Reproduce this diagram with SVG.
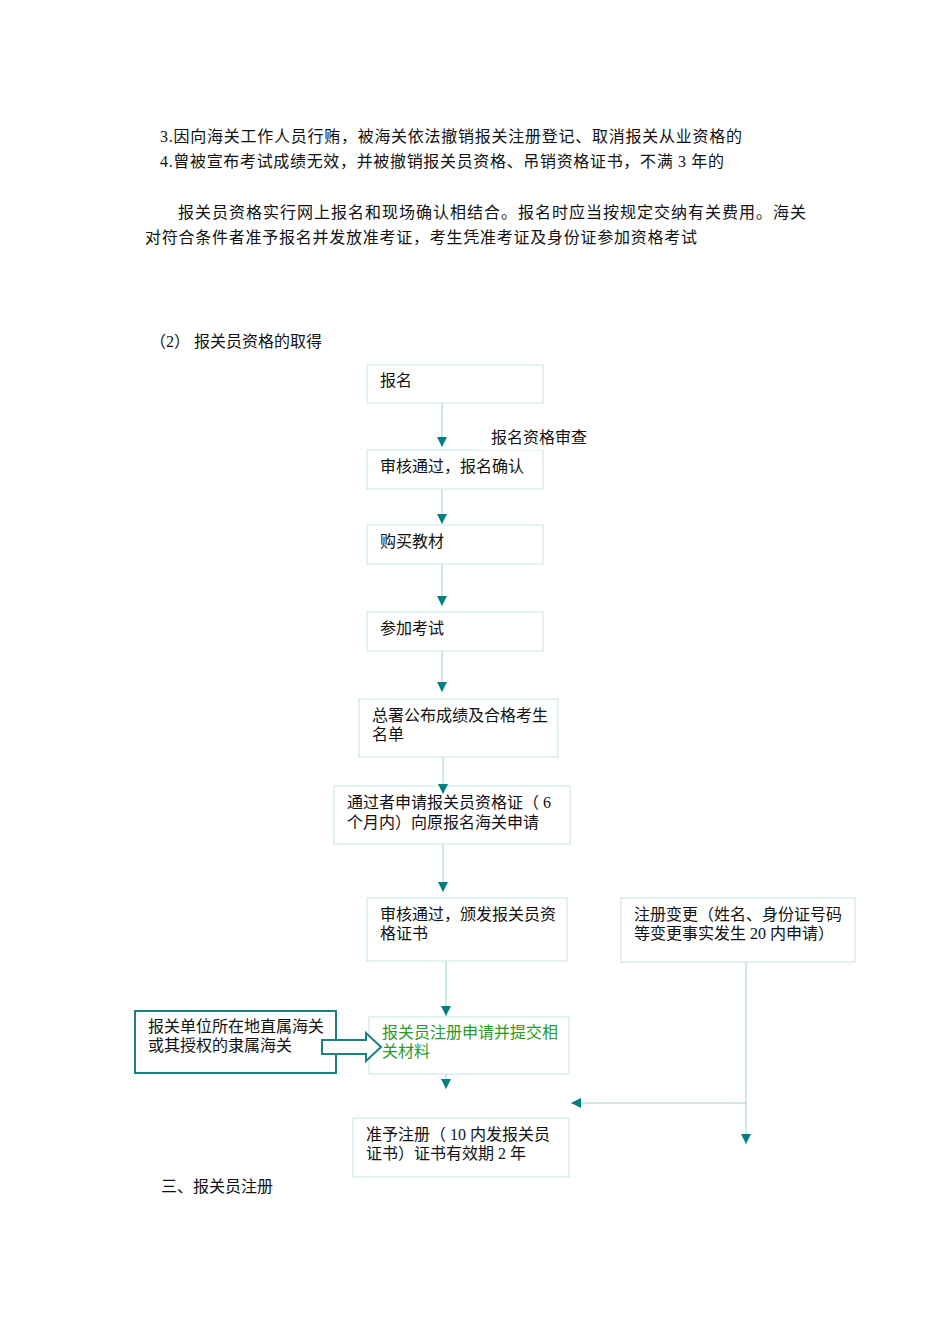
<svg xmlns="http://www.w3.org/2000/svg" width="950" height="1344" viewBox="0 0 950 1344">
<style>
text{font-family:"Liberation Serif","Noto Sans CJK SC",serif;font-size:16px;fill:#111}
.b{fill:#fff;stroke:#c6e3e3;stroke-width:1}
.l{stroke:#9fd0d0;stroke-width:1;fill:none}
.g{fill:#2a9a2a}
</style>
<defs><marker id="a" viewBox="0 0 10 10" refX="10" refY="5" markerWidth="10" markerHeight="10" markerUnits="userSpaceOnUse" orient="auto"><path d="M0,0L10,5L0,10z" fill="#007f7f"/></marker></defs>
<rect width="950" height="1344" fill="#fff"/>
<text x="160" y="142" textLength="582">3.因向海关工作人员行贿，被海关依法撤销报关注册登记、取消报关从业资格的</text>
<text x="160" y="167" textLength="564">4.曾被宣布考试成绩无效，并被撤销报关员资格、吊销资格证书，不满 3 年的</text>
<text x="178" y="218" textLength="628">报关员资格实行网上报名和现场确认相结合。报名时应当按规定交纳有关费用。海关</text>
<text x="145" y="243" textLength="552">对符合条件者准予报名并发放准考证，考生凭准考证及身份证参加资格考试</text>
<text x="150" y="347">（2）  报关员资格的取得</text>
<g id="connectors">
<path class="l" d="M442,403V447" marker-end="url(#a)"/>
<path class="l" d="M442,489V524" marker-end="url(#a)"/>
<path class="l" d="M442,564V606" marker-end="url(#a)"/>
<path class="l" d="M442,651V692" marker-end="url(#a)"/>
<path class="l" d="M446,961V1016" marker-end="url(#a)"/>
<path class="l" d="M443,844V892" marker-end="url(#a)"/>
<path class="l" d="M446,1074V1089" marker-end="url(#a)"/>
<path class="l" d="M746,962V1144" marker-end="url(#a)"/>
<path class="l" d="M746,1103H571" marker-end="url(#a)"/>
</g>
<g id="n1"><rect class="b" x="367" y="365" width="176" height="38"/><text x="380" y="386">报名</text></g>
<g id="n2"><rect class="b" x="367" y="450" width="176" height="39"/><text x="380" y="472">审核通过，报名确认</text></g>
<g id="lbl"><rect x="478" y="426" width="120" height="24" fill="#fff"/><text x="491" y="443">报名资格审查</text></g>
<g id="n3"><rect class="b" x="367" y="525" width="176" height="39"/><text x="380" y="547">购买教材</text></g>
<g id="n4"><rect class="b" x="367" y="612" width="176" height="39"/><text x="380" y="634">参加考试</text></g>
<g id="n5"><rect class="b" x="359" y="699" width="199" height="58"/><text x="372" y="721">总署公布成绩及合格考生</text><text x="372" y="740">名单</text></g>
<g id="n6"><rect class="b" x="334" y="786" width="236" height="58"/><text x="347" y="808">通过者申请报关员资格证（ 6</text><text x="347" y="828">个月内）向原报名海关申请</text></g>
<path class="l" d="M443,757V794" marker-end="url(#a)"/>
<g id="n7"><rect class="b" x="367" y="898" width="200" height="63"/><text x="380" y="920">审核通过，颁发报关员资</text><text x="380" y="939">格证书</text></g>
<g id="n8"><rect class="b" x="621" y="898" width="234" height="64"/><text x="634" y="920">注册变更（姓名、身份证号码</text><text x="634" y="939">等变更事实发生 20 内申请）</text></g>
<g id="n9"><rect class="b" x="369" y="1017" width="200" height="57"/><text class="g" x="382" y="1038">报关员注册申请并提交相</text><text class="g" x="382" y="1057">关材料</text></g>
<g id="n10"><rect class="b" x="353" y="1118" width="216" height="59"/><text x="366" y="1140">准予注册（ 10 内发报关员</text><text x="366" y="1159">证书）证书有效期 2 年</text></g>
<g id="n11"><rect x="135" y="1011" width="201" height="62" fill="#fff" stroke="#1a8080" stroke-width="2"/><text x="148" y="1032">报关单位所在地直属海关</text><text x="148" y="1051">或其授权的隶属海关</text></g>
<g id="bigarrow"><path d="M322,1040H366V1033L381,1047L366,1061V1054H322Z" fill="#fff" stroke="#1a8080" stroke-width="2"/></g>
<text x="161" y="1192">三、报关员注册</text>
</svg>
